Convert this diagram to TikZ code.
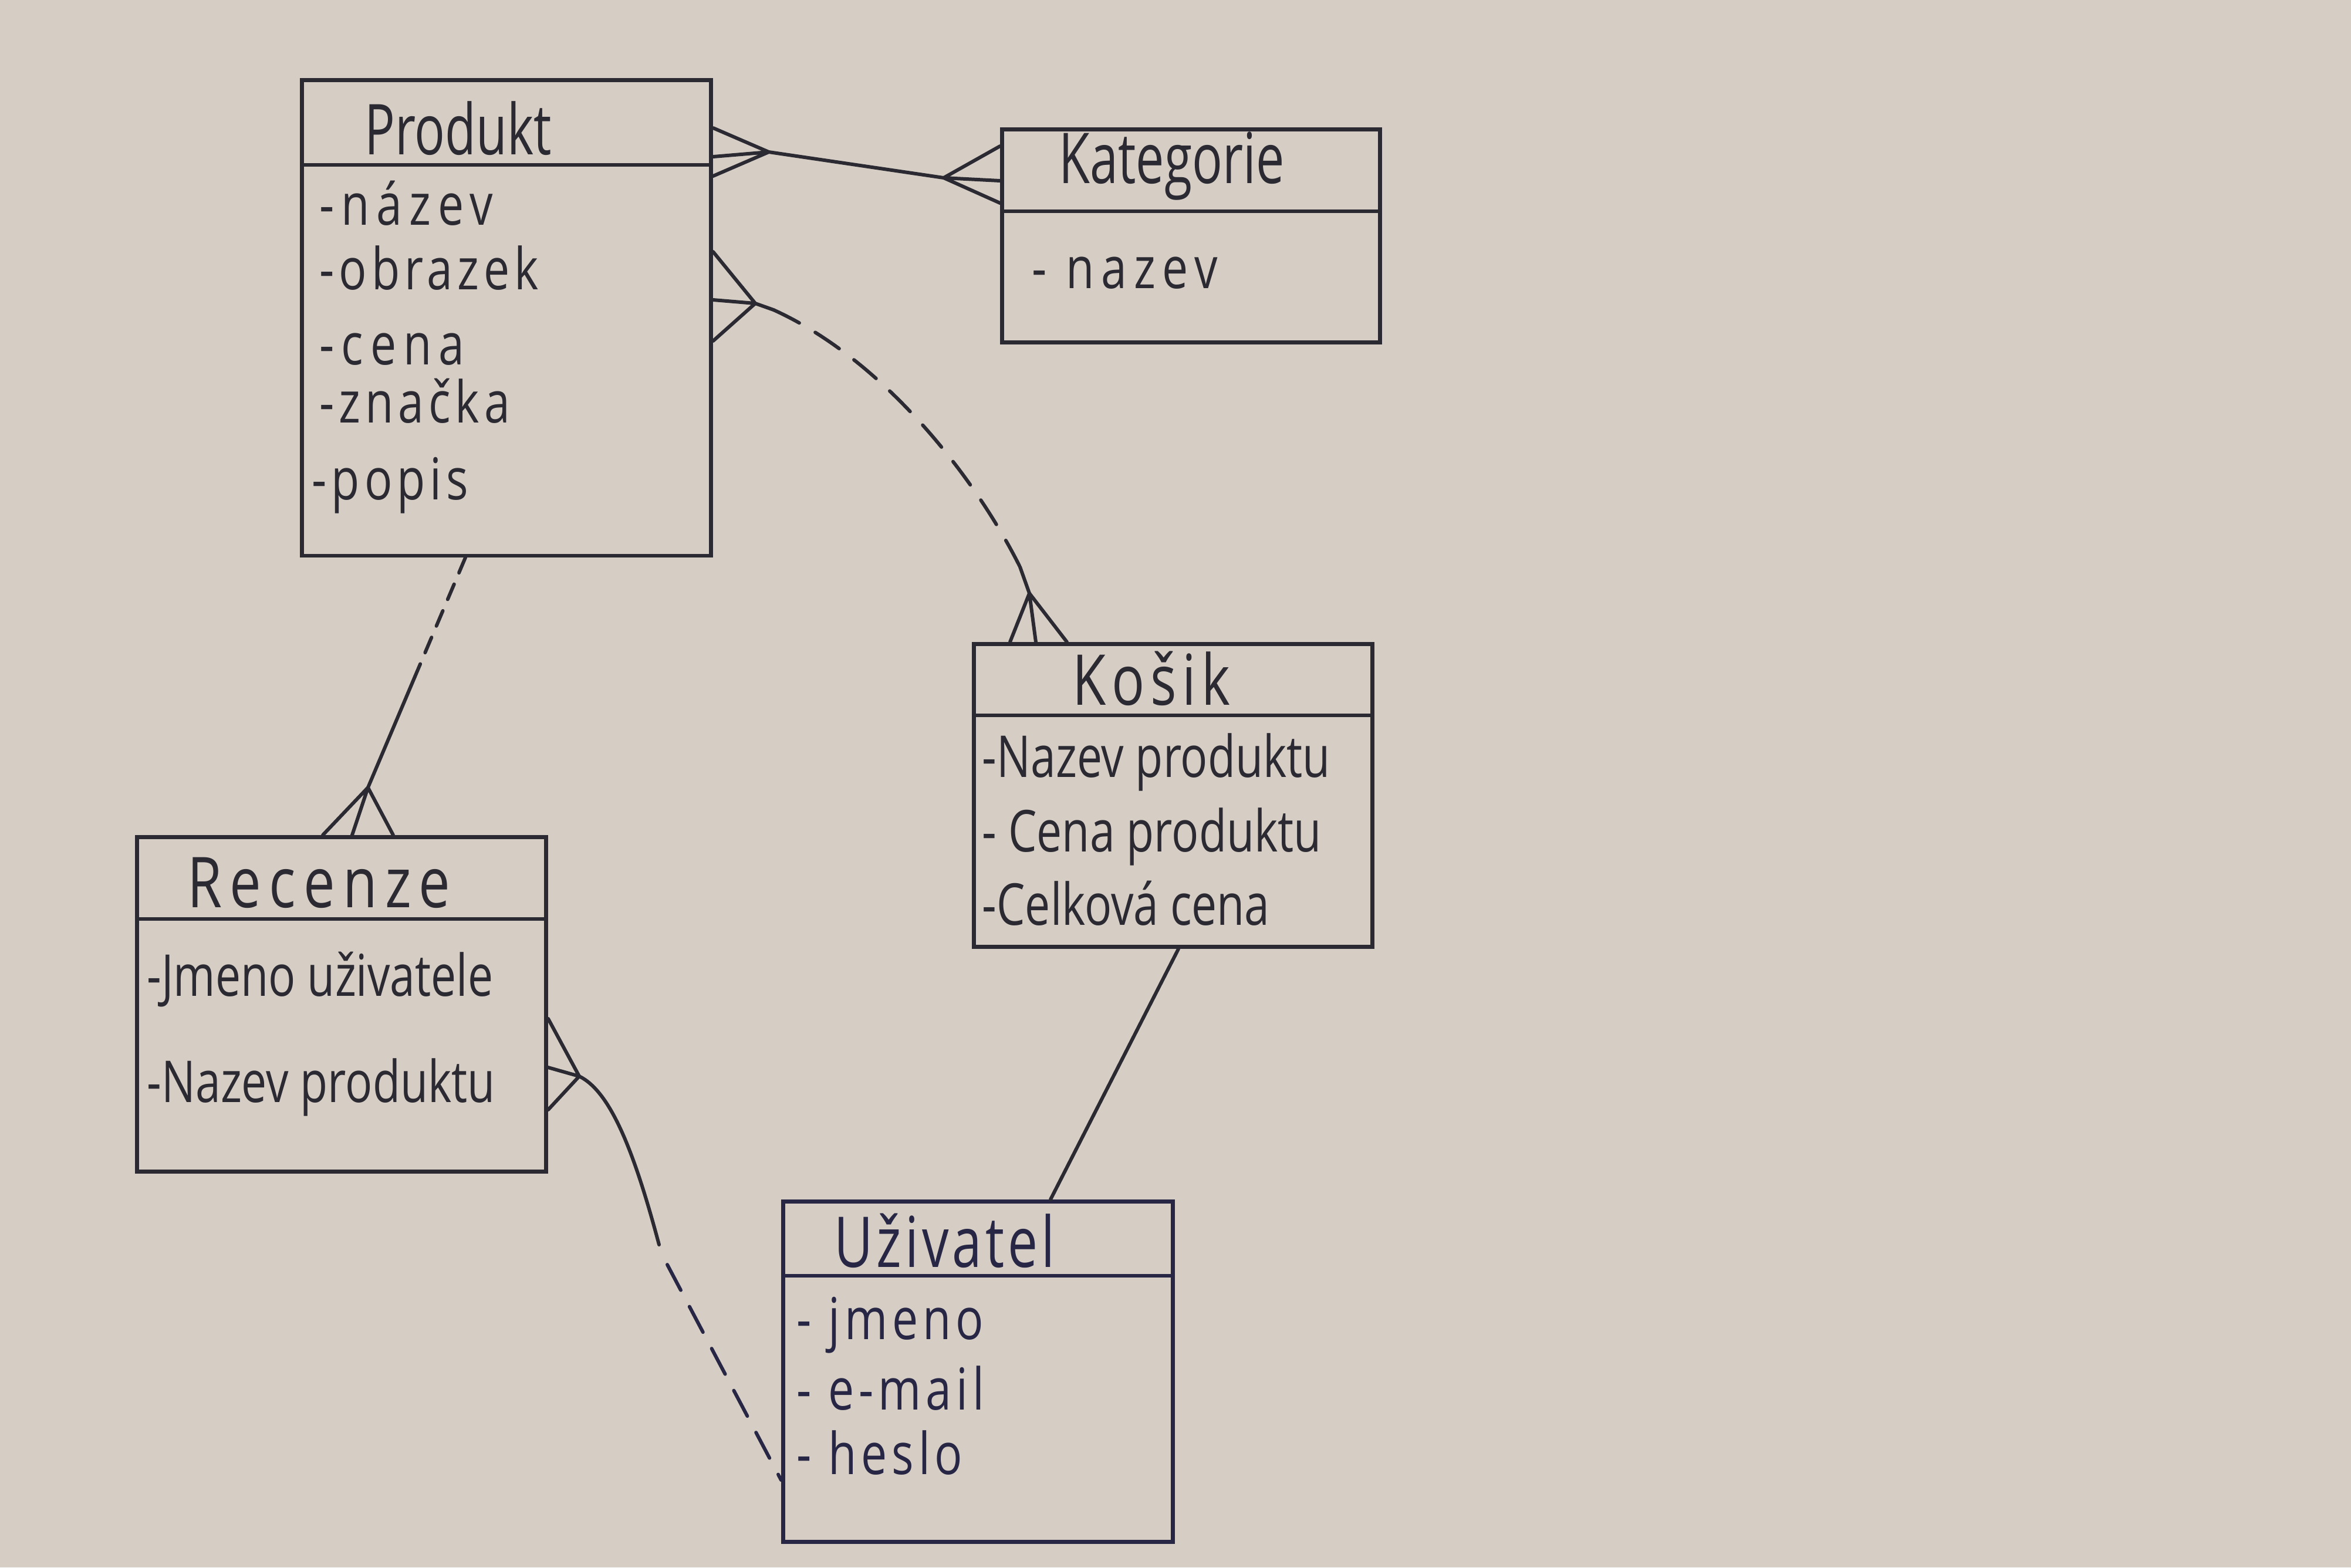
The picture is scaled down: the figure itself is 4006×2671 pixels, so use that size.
\documentclass[tikz,border=0pt]{standalone}
\usepackage{fontspec}
\newfontfamily\hand[FakeStretch=0.78]{Open Sans}
\newfontfamily\handm[FakeStretch=0.8,LetterSpace=8]{Open Sans}
\newfontfamily\handw[FakeStretch=0.8,LetterSpace=12]{Open Sans}
\newfontfamily\ttlnarrow[FakeStretch=0.72]{Open Sans}
\newfontfamily\ttlu[FakeStretch=0.76,LetterSpace=5]{Open Sans}
\newfontfamily\ttlmid[FakeStretch=0.78,LetterSpace=8]{Open Sans}
\newfontfamily\ttlwide[FakeStretch=0.8,LetterSpace=11]{Open Sans}
\definecolor{paper}{HTML}{D6CEC5}
\definecolor{ink}{HTML}{2B2A33}
\definecolor{navy}{HTML}{272645}
\tikzset{
  box/.style={draw=ink, line width=1.9pt, rectangle, anchor=north west, inner sep=0pt},
  sep/.style={draw=ink, line width=1.8pt},
  ttl/.style={anchor=base west, inner sep=0pt, text=ink, font=\ttlmid\fontsize{34}{36}\selectfont},
  attr/.style={anchor=base west, inner sep=0pt, text=ink, font=\hand\fontsize{28}{30}\selectfont},
  attrw/.style={anchor=base west, inner sep=0pt, text=ink, font=\handw\fontsize{28}{30}\selectfont},
  rel/.style={draw=ink, line width=1.7pt, line cap=round, line join=round},
  dsh/.style={rel, dash pattern=on 14pt off 9pt},
  dshs/.style={rel, dash pattern=on 8pt off 6pt}
}
\begin{document}
\begin{tikzpicture}[x=0.01cm,y=-0.01cm]
\fill[paper] (0,0) rectangle (4006,2671);
\useasboundingbox (0,0) rectangle (4006,2671);

% ---- boxes ----
\node[box, minimum width=6.97cm, minimum height=8.10cm] (prod) at (511,133) {};
\node[box, minimum width=6.44cm, minimum height=3.63cm] (kat) at (1704,217) {};
\node[box, minimum width=6.79cm, minimum height=5.16cm] (kos) at (1656,1094) {};
\node[box, minimum width=6.97cm, minimum height=5.70cm] (rec) at (230,1423) {};
\node[box, minimum width=6.64cm, minimum height=5.80cm, draw=navy] (uziv) at (1331,2044) {};

\draw[sep] (prod.west |- 0,281) -- (prod.east |- 0,281);
\draw[sep] (kat.west |- 0,360) -- (kat.east |- 0,360);
\draw[sep] (kos.west |- 0,1219) -- (kos.east |- 0,1219);
\draw[sep] (rec.west |- 0,1566) -- (rec.east |- 0,1566);
\draw[sep, draw=navy] (uziv.west |- 0,2174) -- (uziv.east |- 0,2174);

% ---- texts ----
\node[ttl, font=\ttlnarrow\fontsize{34}{36}\selectfont] (prodT) at (621,263) {Produkt};
\node[attrw] (p1) at (544,383) {-název};
\node[attr, font=\handm\fontsize{28}{30}\selectfont] (p2) at (544,493) {-obrazek};
\node[attrw] (p3) at (544,621) {-cena};
\node[attr, font=\handm\fontsize{28}{30}\selectfont] (p4) at (544,720) {-značka};
\node[attr, font=\handm\fontsize{28}{30}\selectfont] (p5) at (531,851) {-popis};

\node[ttl, font=\ttlnarrow\fontsize{34}{36}\selectfont] (katT) at (1804,312) {Kategorie};
\node[attrw] (k1) at (1758,491) {- nazev};

\node[ttl] (kosT) at (1827,1201) {Košik};
\node[attr] (c1) at (1673,1324) {-Nazev produktu};
\node[attr] (c2) at (1673,1451) {- Cena produktu};
\node[attr] (c3) at (1673,1576) {-Celková cena};

\node[ttl, font=\ttlwide\fontsize{34}{36}\selectfont] (recT) at (319,1546) {Recenze};
\node[attr] (r1) at (250,1697) {-Jmeno uživatele};
\node[attr] (r2) at (250,1878) {-Nazev produktu};

\node[ttl, text=navy, font=\ttlu\fontsize{34}{36}\selectfont] (uzT) at (1421,2159) {Uživatel};
\node[attr, text=navy, font=\handm\fontsize{28}{30}\selectfont] (u1) at (1357,2282) {- jmeno};
\node[attr, text=navy, font=\handm\fontsize{28}{30}\selectfont] (u2) at (1357,2402) {- e-mail};
\node[attr, text=navy, font=\handm\fontsize{28}{30}\selectfont] (u3) at (1357,2512) {- heslo};

% ---- Produkt -- Kategorie ----
\coordinate (pk1) at (prod.east |- 0,218);
\coordinate (pk2) at (prod.east |- 0,267);
\coordinate (pk3) at (prod.east |- 0,300);
\coordinate (pka) at (1310,259);
\coordinate (kp1) at (kat.west |- 0,249);
\coordinate (kp2) at (kat.west |- 0,308);
\coordinate (kp3) at (kat.west |- 0,346);
\coordinate (kpa) at (1608,303);
\draw[rel] (pk1) -- (pka) (pk2) -- (pka) (pk3) -- (pka);
\draw[rel] (pka) -- (kpa);
\draw[rel] (kp1) -- (kpa) (kp2) -- (kpa) (kp3) -- (kpa);

% ---- Produkt -- Kosik ----
\coordinate (pc1) at (prod.east |- 0,429);
\coordinate (pc2) at (prod.east |- 0,511);
\coordinate (pc3) at (prod.east |- 0,581);
\coordinate (pca) at (1287,517);
\coordinate (pcs) at (1318,528);
\coordinate (pce) at (1738,966);
\coordinate (cpa) at (1754,1011);
\coordinate (cp1) at (kos.north -| 1721,0);
\coordinate (cp2) at (kos.north -| 1765,0);
\coordinate (cp3) at (kos.north -| 1818,0);
\draw[rel] (pc1) -- (pca) (pc2) -- (pca) (pc3) -- (pca);
\draw[rel] (pca) -- (pcs);
\draw[dsh] (pcs) .. controls (1510,615) and (1665,820) .. (pce);
\draw[rel] (pce) -- (cpa);
\draw[rel] (cp1) -- (cpa) (cp2) -- (cpa) (cp3) -- (cpa);

% ---- Produkt -- Recenze ----
\coordinate (pr0) at (prod.south -| 793,0);
\coordinate (prm) at (707,1153);
\coordinate (rpa) at (627,1342);
\coordinate (rp1) at (rec.north -| 550,0);
\coordinate (rp2) at (rec.north -| 600,0);
\coordinate (rp3) at (rec.north -| 670,0);
\draw[dshs] (pr0) -- (prm);
\draw[rel] (prm) -- (rpa);
\draw[rel] (rp1) -- (rpa) (rp2) -- (rpa) (rp3) -- (rpa);

% ---- Recenze -- Uzivatel ----
\coordinate (ru1) at (rec.east |- 0,1736);
\coordinate (ru2) at (rec.east |- 0,1819);
\coordinate (ru3) at (rec.east |- 0,1891);
\coordinate (rua) at (987,1834);
\coordinate (rum) at (1123,2121);
\coordinate (rud) at (1137,2155);
\coordinate (ur0) at (uziv.west |- 0,2522);
\draw[rel] (ru1) -- (rua) (ru2) -- (rua) (ru3) -- (rua);
\draw[rel] (rua) .. controls (1040,1860) and (1080,1960) .. (rum);
\draw[dsh, draw=navy] (rud) -- (ur0);

% ---- Kosik -- Uzivatel ----
\coordinate (ku0) at (kos.south -| 2008,0);
\coordinate (ku1) at (uziv.north -| 1790,0);
\draw[rel] (ku0) -- (ku1);
\end{tikzpicture}
\end{document}
